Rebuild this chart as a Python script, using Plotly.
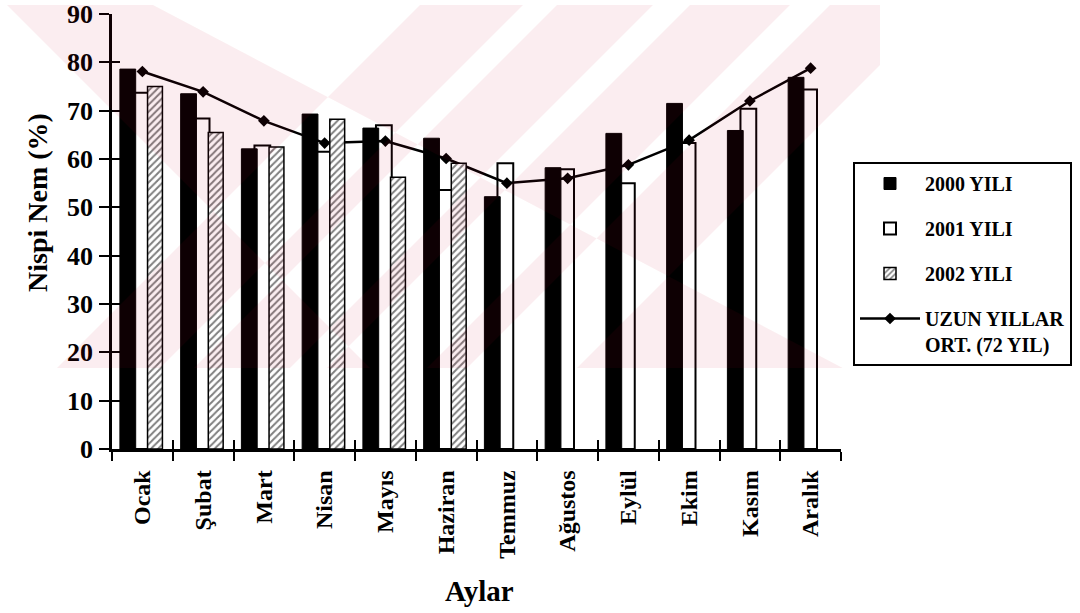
import plotly.graph_objects as go

# ---------------- data ----------------
months = ["Ocak", "Şubat", "Mart", "Nisan", "Mayıs", "Haziran",
          "Temmuz", "Ağustos", "Eylül", "Ekim", "Kasım", "Aralık"]
y2000 = [78.6, 73.5, 62.1, 69.3, 66.4, 64.3, 52.2, 58.2, 65.3, 71.5, 65.9, 76.9]
y2001 = [73.7, 68.4, 62.8, 61.5, 67.0, 53.6, 59.1, 57.9, 55.0, 63.3, 70.4, 74.4]
y2002 = [75.0, 65.5, 62.5, 68.2, 56.2, 59.1, None, None, None, None, None, None]
long_term = [78.1, 73.9, 67.9, 63.3, 63.7, 60.1, 55.0, 56.0, 58.8, 63.9, 72.0, 78.8]
y_ticks = [0, 10, 20, 30, 40, 50, 60, 70, 80, 90]

# ---------------- layout geometry (pixels) ----------------
W, H = 1080, 613
PL, PR, PT, PB = 112, 841, 14, 449
FONT = "Liberation Serif"


def px_to_paper(x, y):
    return (x - PL) / (PR - PL), (PB - y) / (PB - PT)


def clip(poly, xmin, xmax, ymin, ymax):
    def clip_edge(pts, inside, inter):
        out = []
        for i in range(len(pts)):
            cur, prev = pts[i], pts[i - 1]
            if inside(cur):
                if not inside(prev):
                    out.append(inter(prev, cur))
                out.append(cur)
            elif inside(prev):
                out.append(inter(prev, cur))
        return out

    def ix(a, b, xv):
        t = (xv - a[0]) / (b[0] - a[0])
        return (xv, a[1] + t * (b[1] - a[1]))

    def iy(a, b, yv):
        t = (yv - a[1]) / (b[1] - a[1])
        return (a[0] + t * (b[0] - a[0]), yv)

    p = poly
    p = clip_edge(p, lambda q: q[0] >= xmin, lambda a, b: ix(a, b, xmin))
    if p:
        p = clip_edge(p, lambda q: q[0] <= xmax, lambda a, b: ix(a, b, xmax))
    if p:
        p = clip_edge(p, lambda q: q[1] >= ymin, lambda a, b: iy(a, b, ymin))
    if p:
        p = clip_edge(p, lambda q: q[1] <= ymax, lambda a, b: iy(a, b, ymax))
    return p


# background watermark (decorative, translucent overlay)
WM_TOP, WM_BOT, WM_RIGHT = 5, 368, 880
DY = WM_BOT - WM_TOP
polys = []
for x0, x1 in [(420, 523), (557, 653), (690, 790), (830, 940)]:
    polys.append([(x0, WM_TOP), (x1, WM_TOP), (x1 - DY, WM_BOT), (x0 - DY, WM_BOT)])
polys.append([(7, WM_TOP), (153, WM_TOP), (153 + 1.9 * DY, WM_BOT), (7 + DY, WM_BOT)])

path = ""
for poly in polys:
    c = clip(poly, 0, WM_RIGHT, WM_TOP, WM_BOT)
    if len(c) < 3:
        continue
    pts = [px_to_paper(x, y) for x, y in c]
    area = sum(pts[i][0] * pts[(i + 1) % len(pts)][1] - pts[(i + 1) % len(pts)][0] * pts[i][1]
               for i in range(len(pts)))
    if area < 0:
        pts = pts[::-1]
    path += "M" + " L".join(f"{a:.5f},{b:.5f}" for a, b in pts) + " Z "

fig = go.Figure()

fig.add_trace(go.Bar(
    x=months, y=y2002, name="2002 YILI", xaxis="x2", yaxis="y",
    width=0.245, offset=0.085,
    marker=dict(color="white", line=dict(color="black", width=1.5),
                pattern=dict(shape="/", fgcolor="black", bgcolor="white",
                             size=5, solidity=0.4)),
    legendrank=3, legendgroup="g3",
))
fig.add_trace(go.Bar(
    x=months, y=y2001, name="2001 YILI",
    width=0.26, offset=-0.155,
    marker=dict(color="white", line=dict(color="black", width=2)),
    legendrank=2, legendgroup="g2",
))
fig.add_trace(go.Bar(
    x=months, y=y2000, name="2000 YILI",
    width=0.26, offset=-0.37,
    marker=dict(color="black", line=dict(color="black", width=1)),
    legendrank=1, legendgroup="g1",
))
fig.add_trace(go.Scatter(
    x=months, y=long_term, name="UZUN YILLAR<br>ORT. (72 YIL)",
    mode="lines+markers", yaxis="y2",
    line=dict(color="black", width=2.5),
    marker=dict(symbol="diamond", size=9, color="black"),
    legendrank=4, legendgroup="g4",
))

axis_font = dict(family=FONT, size=24, color="black", weight="bold")

fig.update_layout(
    width=W, height=H,
    margin=dict(l=PL, r=W - PR, t=PT, b=H - PB, autoexpand=False),
    paper_bgcolor="white", plot_bgcolor="rgba(0,0,0,0)",
    barmode="overlay",
    font=dict(family=FONT, color="black"),
    xaxis=dict(
        type="category", categoryorder="array", categoryarray=months,
        range=[-0.5, 11.5], showgrid=False, zeroline=False,
        showline=True, linecolor="black", linewidth=2.5,
        ticks="outside", tickson="boundaries", ticklen=9, tickwidth=2,
        tickcolor="black", tickangle=-90, tickfont=axis_font,
        ticklabelstandoff=9,
    ),
    xaxis2=dict(
        type="category", categoryorder="array", categoryarray=months,
        range=[-0.5, 11.5], overlaying="x", anchor="y", side="bottom",
        showgrid=False, zeroline=False, showline=False,
        ticks="inside", tickson="boundaries", ticklen=9, tickwidth=2,
        tickcolor="black", showticklabels=False,
    ),
    yaxis=dict(
        range=[0, 90], tickvals=y_ticks, showgrid=False, zeroline=False,
        showline=True, linecolor="black", linewidth=2.5,
        ticks="outside", ticklen=10, tickwidth=2, tickcolor="black",
        tickfont=dict(family=FONT, size=26, color="black", weight="bold"),
        ticklabelstandoff=1,
    ),
    yaxis2=dict(
        range=[0, 90], tickvals=y_ticks, overlaying="y", anchor="x", side="left",
        showgrid=False, zeroline=False, showline=False,
        ticks="inside", ticklen=8, tickwidth=2, tickcolor="black",
        showticklabels=False,
    ),
    legend=dict(
        x=(853 - PL) / (PR - PL), xanchor="left",
        y=(PB - 162) / (PB - PT), yanchor="top",
        bordercolor="black", borderwidth=2, bgcolor="white",
        font=dict(family=FONT, size=20, color="black", weight="bold"),
        itemwidth=60, tracegroupgap=16, traceorder="grouped", valign="top",
    ),
    showlegend=True,
)

tx, ty = px_to_paper(37, 203)
ax, ay = px_to_paper(480, 591)
fig.add_annotation(x=tx, y=ty, xref="paper", yref="paper", text="Nispi Nem (%)",
                   textangle=-90, showarrow=False, xanchor="center", yanchor="middle",
                   font=dict(family=FONT, size=28, color="black", weight="bold"))
fig.add_annotation(x=ax, y=ay, xref="paper", yref="paper", text="Aylar",
                   showarrow=False, xanchor="center", yanchor="middle",
                   font=dict(family=FONT, size=29, color="black", weight="bold"))

if path:
    fig.add_shape(type="path", path=path, xref="paper", yref="paper",
                  fillcolor="rgb(205,0,40)", opacity=0.07, line=dict(width=0),
                  layer="above")

fig.write_html("out.html", config={"displayModeBar": False},
               post_script="document.body.style.margin='0px';")
